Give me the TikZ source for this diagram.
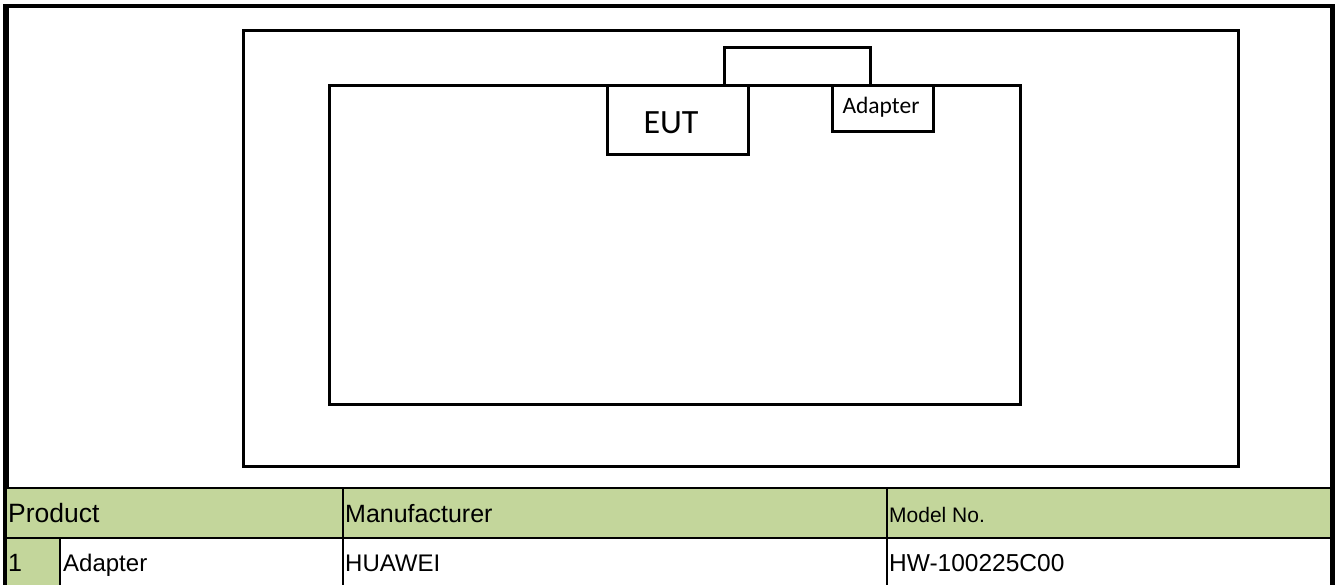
\documentclass[tikz,border=0pt]{standalone}
\usepackage{fontspec}
\setmainfont{Liberation Sans}
\newfontfamily\tabfont{Liberation Sans}
\newfontfamily\calib{Carlito}
\definecolor{hdrgreen}{HTML}{C3D69B}
\tikzset{
  box/.style={draw=black, line width=2.6pt, fill=white, inner sep=0pt, anchor=north west},
  cell/.style={draw=black, line width=2.2pt, inner sep=0pt, anchor=north west},
  hdr/.style={cell, fill=hdrgreen},
  txt/.style={anchor=base west, inner sep=0pt, font=\tabfont\fontsize{25}{30}\selectfont},
}
\begin{document}
\begin{tikzpicture}[x=1pt,y=-1pt]
\useasboundingbox (0,0) rectangle (1335,584);
% outer frame
\node[draw=black, line width=3.5pt, inner sep=0pt, anchor=north west,
      minimum width=1325pt, minimum height=620pt] (frame) at (5,4) {};
% diagram
\node[box, minimum width=995pt, minimum height=436pt] (room) at (242,29) {};
\node[box, minimum width=691pt, minimum height=319pt] (table) at (328,84) {};
\node[box, minimum width=146pt, minimum height=38pt] (cable) at (723,46) {};
\node[box, minimum width=141pt, minimum height=69pt] (eut) at (606,84) {};
\node[box, minimum width=101pt, minimum height=46pt] (adp) at (831,84) {};
\node[anchor=base, inner sep=0pt, font=\calib\fontsize{34}{38}\selectfont] (eutlbl) at (671,133) {EUT};
\node[anchor=base, inner sep=0pt, font=\calib\fontsize{23.5}{28}\selectfont] (adplbl) at (881,113) {Adapter};
% table
\node[hdr, minimum width=337pt, minimum height=50pt] (hprod) at (5,487) {};
\node[hdr, minimum width=544pt, minimum height=50pt] (hman) at (342,487) {};
\node[hdr, minimum width=444pt, minimum height=50pt] (hmod) at (886,487) {};
\node[hdr, minimum width=54pt, minimum height=80pt] (cnum) at (5,537) {};
\node[cell, fill=white, minimum width=283pt, minimum height=80pt] (cprod) at (59,537) {};
\node[cell, fill=white, minimum width=544pt, minimum height=80pt] (cman) at (342,537) {};
\node[cell, fill=white, minimum width=444pt, minimum height=80pt] (cmod) at (886,537) {};
% redraw frame sides over table
\draw[line width=3.5pt] (frame.north west) -- (frame.south west);
\draw[line width=3.5pt] (frame.north east) -- (frame.south east);
% texts
\node[txt, font=\tabfont\fontsize{26.5}{31}\selectfont] (tprod) at (8,522) {Product};
\node[txt] (tman) at (345,522) {Manufacturer};
\node[txt, font=\tabfont\fontsize{21}{25}\selectfont] (tmod) at (889,522) {Model No.};
\node[txt] (t1) at (8,571) {1};
\node[txt, font=\tabfont\fontsize{24}{29}\selectfont] (tadp) at (63,571) {Adapter};
\node[txt, font=\tabfont\fontsize{24}{29}\selectfont] (thw) at (345,571) {HUAWEI};
\node[txt, font=\tabfont\fontsize{24.5}{29}\selectfont] (tmodel) at (889,571) {HW-100225C00};
\end{tikzpicture}
\end{document}
